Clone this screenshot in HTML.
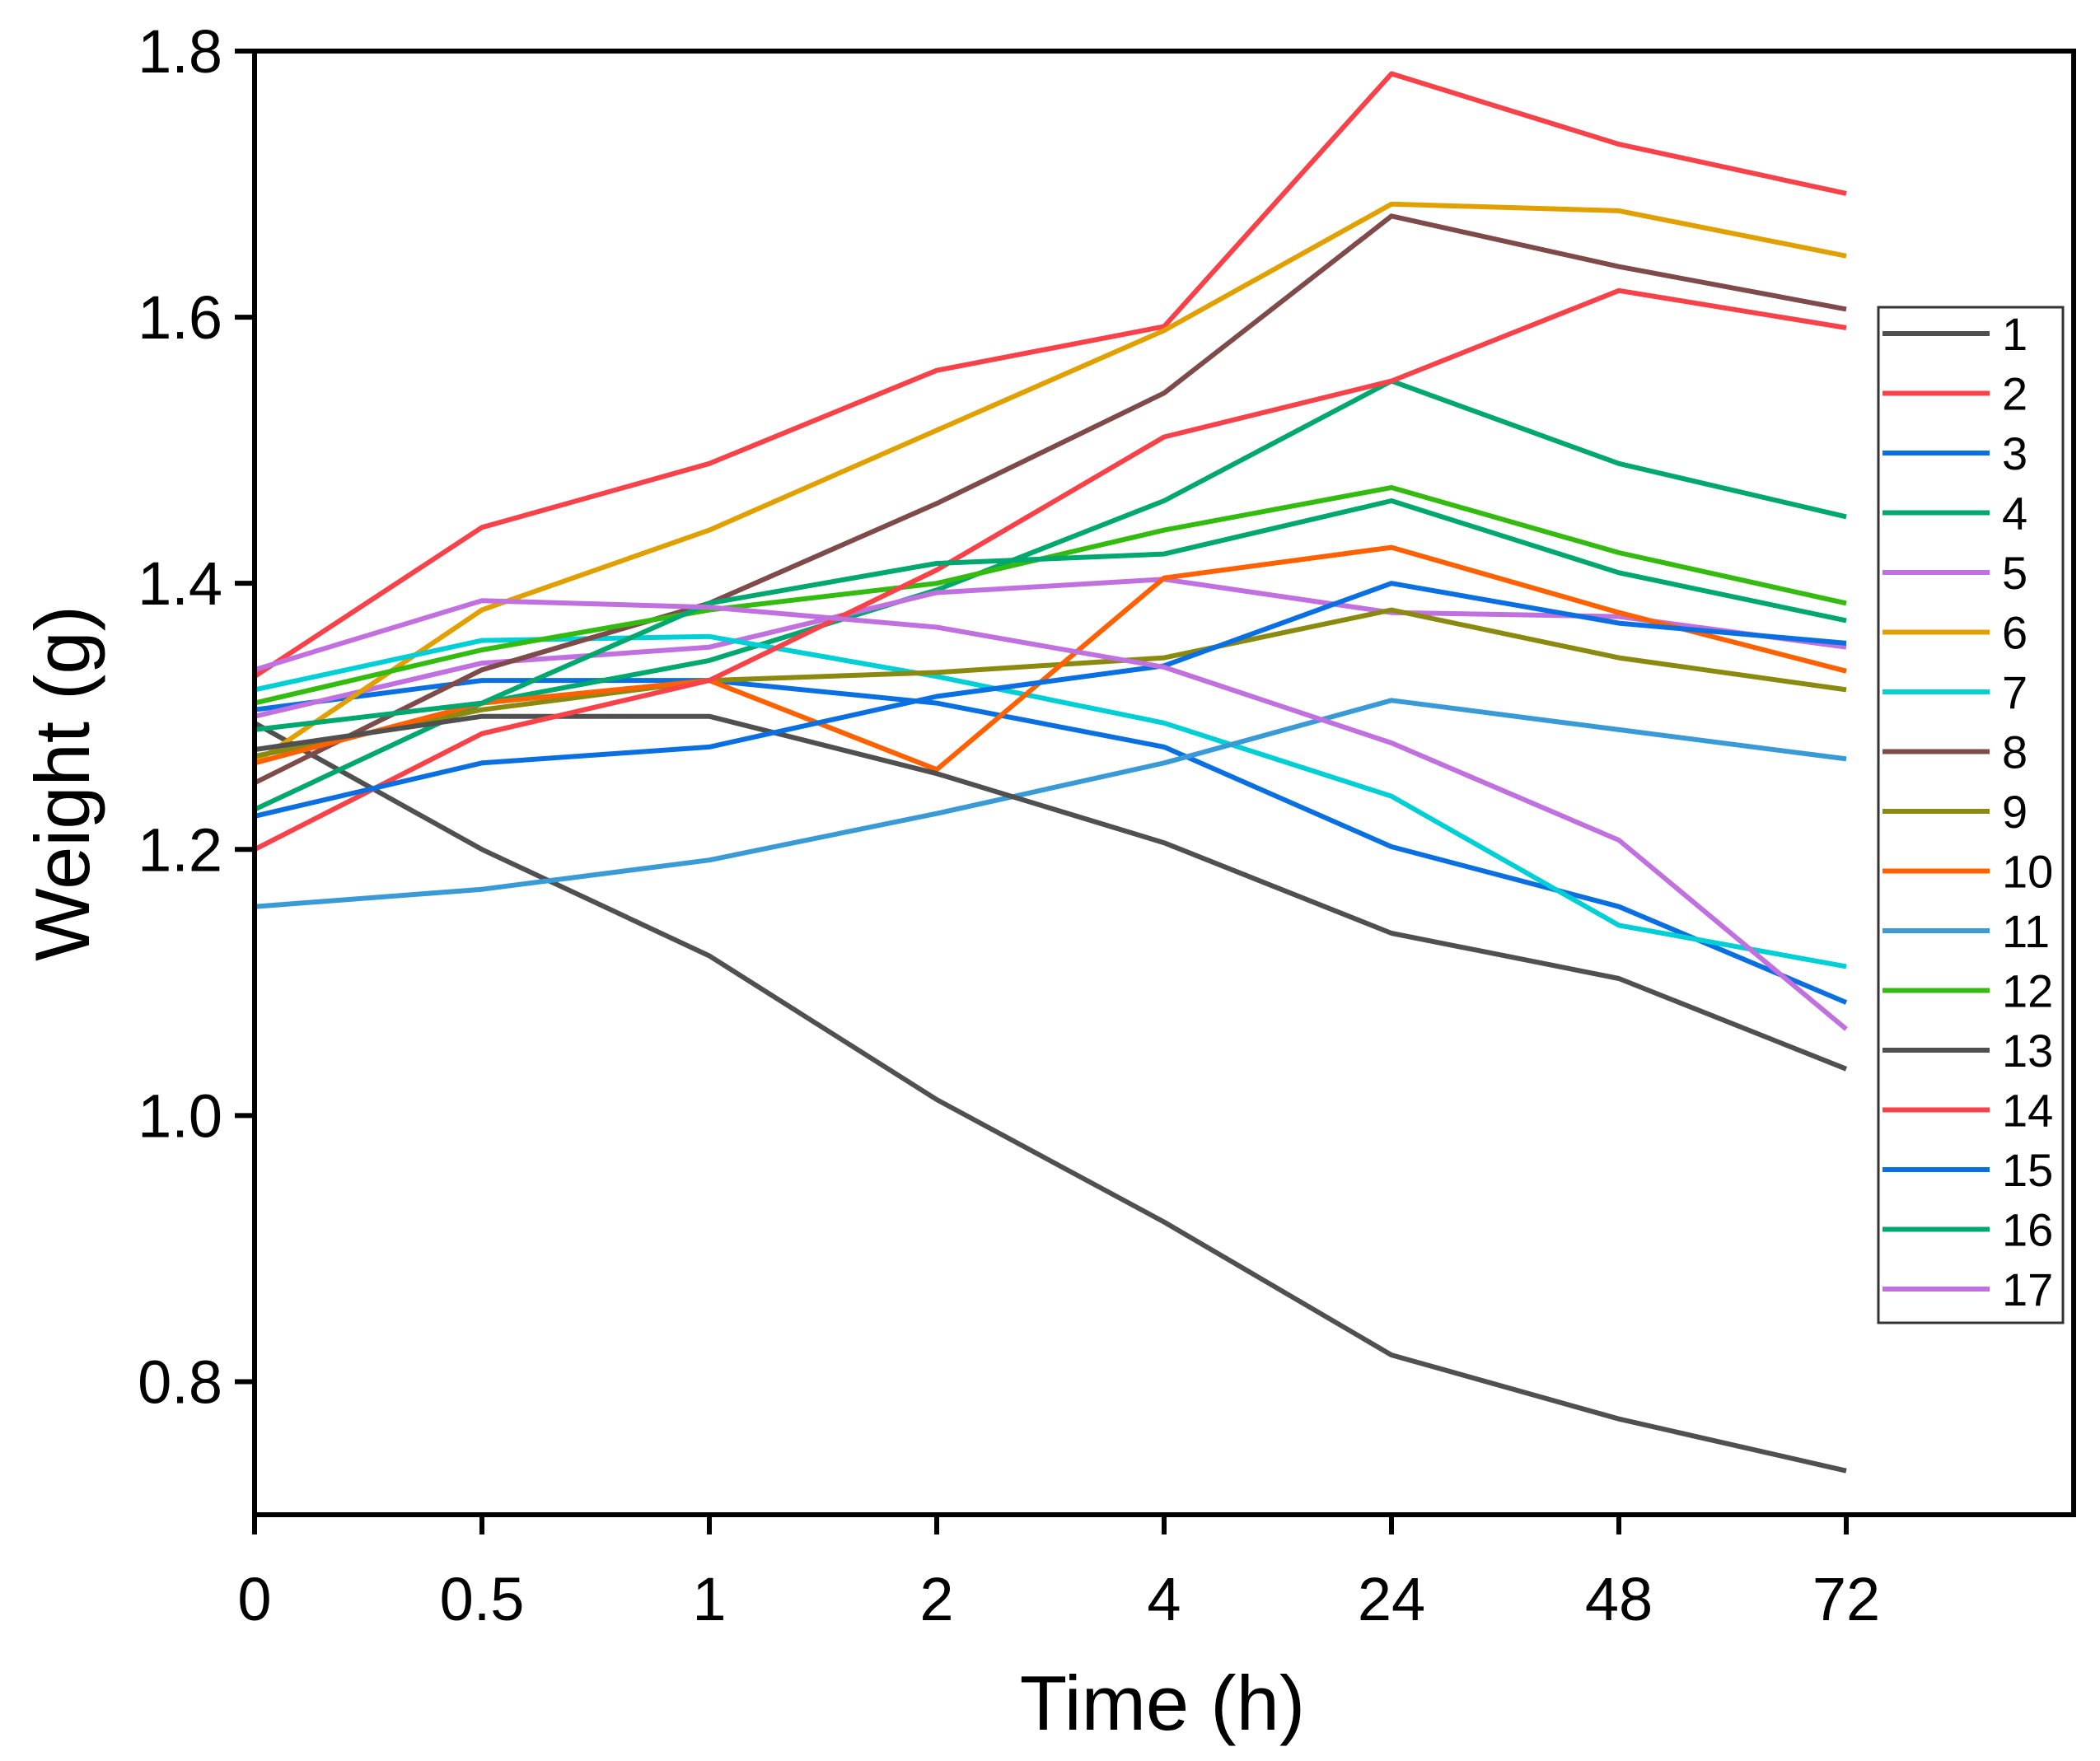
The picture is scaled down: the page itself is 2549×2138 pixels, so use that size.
<!DOCTYPE html>
<html><head><meta charset="utf-8">
<style>html,body{margin:0;padding:0;background:#fff}svg{display:block}text{font-family:"Liberation Sans",Arial,sans-serif;fill:#000}</style>
</head><body>
<svg id="chart" width="2549" height="2138" viewBox="0 0 2549 2138" xmlns="http://www.w3.org/2000/svg">
<g id="lines"></g>
<rect x="309" y="62" width="2208" height="1777" fill="none" stroke="#000" stroke-width="6"/>
<g id="axes"></g>
<g id="legend"></g>
<text x="1411" y="2100" font-size="94" text-anchor="middle">Time (h)</text>
<text x="0" y="0" font-size="94" text-anchor="middle" transform="translate(108,951) rotate(-90)">Weight (g)</text>
</svg>
<script>
const categories = ["0","0.5","1","2","4","24","48","72"];
const yTicks = [0.8,1.0,1.2,1.4,1.6,1.8];
const yTickLabels = ["0.8","1.0","1.2","1.4","1.6","1.8"];
const seriesNames = ["1","2","3","4","5","6","7","8","9","10","11","12","13","14","15","16","17"];
const seriesColors = ["#505050","#f8424a","#0a6fe0","#00a870","#c170e0","#e0a000","#00cfd6","#7f4a4a","#8a8a10","#ff6000","#3a9ad6","#33bb10","#505050","#f8424a","#0a6fe0","#00a870","#c170e0"];
const s1 = [1.295,1.20,1.12,1.012,0.92,0.82,0.772,0.733];
const s2 = [1.33,1.442,1.49,1.56,1.593,1.783,1.73,1.693];
const s3 = [1.305,1.327,1.327,1.31,1.277,1.202,1.157,1.085];
const s4 = [1.23,1.31,1.342,1.395,1.462,1.552,1.49,1.45];
const s5 = [1.30,1.34,1.352,1.393,1.403,1.378,1.375,1.352];
const s6 = [1.265,1.38,1.44,1.515,1.59,1.685,1.68,1.646];
const s7 = [1.32,1.357,1.36,1.33,1.295,1.24,1.143,1.112];
const s8 = [1.25,1.335,1.385,1.46,1.543,1.676,1.638,1.606];
const s9 = [1.27,1.305,1.327,1.333,1.344,1.38,1.344,1.32];
const s10 = [1.265,1.31,1.327,1.26,1.404,1.427,1.378,1.334];
const s11 = [1.157,1.17,1.192,1.227,1.265,1.312,1.29,1.268];
const s12 = [1.31,1.35,1.38,1.40,1.44,1.472,1.423,1.385];
const s13 = [1.275,1.30,1.30,1.257,1.205,1.137,1.103,1.035];
const s14 = [1.20,1.287,1.327,1.41,1.51,1.552,1.62,1.592];
const s15 = [1.225,1.265,1.277,1.315,1.338,1.40,1.37,1.355];
const s16 = [1.29,1.31,1.385,1.415,1.422,1.462,1.408,1.372];
const s17 = [1.335,1.387,1.382,1.367,1.337,1.28,1.207,1.065];
const allSeries = [s1,s2,s3,s4,s5,s6,s7,s8,s9,s10,s11,s12,s13,s14,s15,s16,s17];

const NS="http://www.w3.org/2000/svg";
const X0=309, XSTEP=276, YTOP=62, YBOT=1839, YMIN=0.7, YMAX=1.8;
function xPos(i){return X0+i*XSTEP;}
function yPos(v){return YBOT-(v-YMIN)/(YMAX-YMIN)*(YBOT-YTOP);}
function mk(tag,attrs,parent){const e=document.createElementNS(NS,tag);for(const k in attrs)e.setAttribute(k,attrs[k]);parent.appendChild(e);return e;}

const lines=document.getElementById('lines');
allSeries.forEach((s,si)=>{
  const pts=s.map((v,i)=>xPos(i).toFixed(1)+","+yPos(v).toFixed(1)).join(" ");
  const pl=mk('polyline',{points:pts,fill:'none',stroke:seriesColors[si],'stroke-width':6,'stroke-linejoin':'round'},lines);
  
  
});

const axes=document.getElementById('axes');
categories.forEach((c,i)=>{
  const t=mk('line',{x1:xPos(i),x2:xPos(i),y1:YBOT,y2:YBOT+24,stroke:'#000','stroke-width':6},axes);
  
  
  const l=mk('text',{x:xPos(i),y:1967,'font-size':74,'text-anchor':'middle'},axes);
  l.textContent=c;
  
  
});
yTicks.forEach((v,i)=>{
  const t=mk('line',{x1:X0-24,x2:X0,y1:yPos(v),y2:yPos(v),stroke:'#000','stroke-width':6},axes);
  
  
  const l=mk('text',{x:270,y:yPos(v)+26,'font-size':74,'text-anchor':'end'},axes);
  l.textContent=yTickLabels[i];
  
  
});

const lg=document.getElementById('legend');
const box=mk('rect',{x:2280,y:373,width:224,height:1233,fill:'#fff',stroke:'#333','stroke-width':3},lg);


seriesNames.forEach((n,i)=>{
  const y=405+i*72.5;
  const g=mk('g',{},lg);
  
  
  mk('line',{x1:2285,x2:2415,y1:y,y2:y,stroke:seriesColors[i],'stroke-width':6},g);
  const t=mk('text',{x:2430,y:y+20,'font-size':56},g);
  t.textContent=n;
});
</script>
</body></html>
